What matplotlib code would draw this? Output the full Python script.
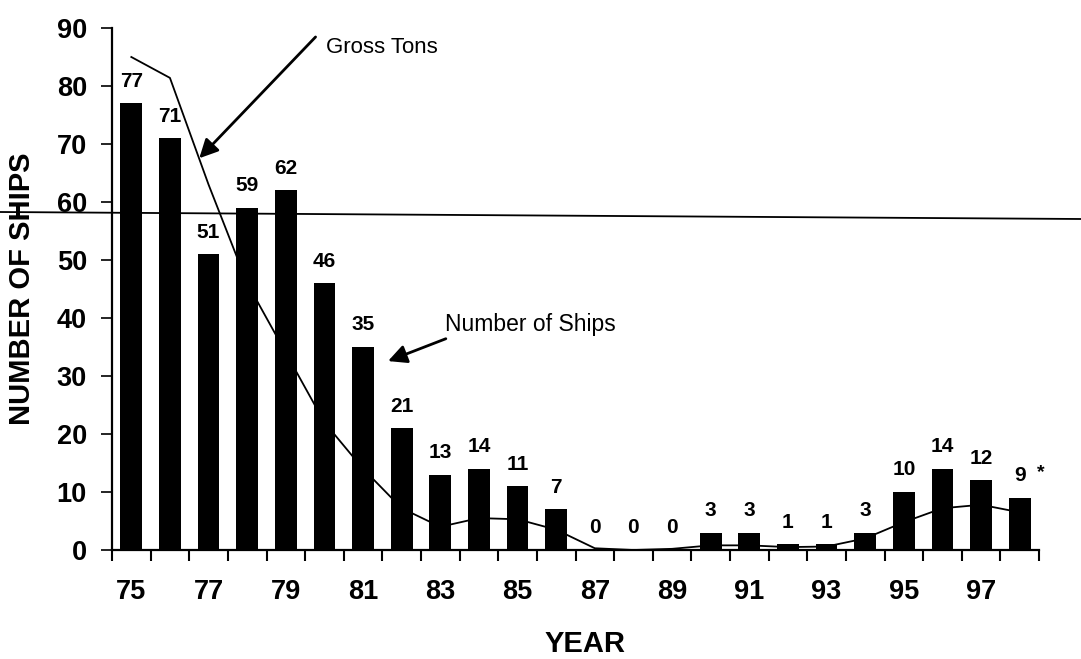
import numpy as np
import matplotlib
matplotlib.use("Agg")
import matplotlib.pyplot as plt
from matplotlib.lines import Line2D

plt.rcParams['font.family'] = ['Liberation Sans', 'DejaVu Sans']

YEARS = [75, 76, 77, 78, 79, 80, 81, 82, 83, 84, 85, 86,
         87, 88, 89, 90, 91, 92, 93, 94, 95, 96, 97, 98]
SHIPS = [77, 71, 51, 59, 62, 46, 35, 21, 13, 14, 11, 7,
         0, 0, 0, 3, 3, 1, 1, 3, 10, 14, 12, 9]
GROSS_TONS = [85, 81.4, 63, 46, 34, 22, 14, 7.2, 4, 5.5, 5.3, 3.5,
              0.3, 0, 0.2, 0.8, 0.8, 0.5, 0.6, 2, 4.8, 7.2, 7.8, 6.5]
YTICKS = list(range(0, 91, 10))


def main():
    fig = plt.figure(figsize=(10.81, 6.59), dpi=100)
    ax = fig.add_axes([112 / 1081, 1 - 550 / 659, (1039 - 112) / 1081, (550 - 28) / 659])

    x = np.arange(len(YEARS))
    ax.plot(x, GROSS_TONS, color='black', lw=1.3, zorder=2)
    ax.bar(x, SHIPS, width=0.56, color='black', zorder=3)

    for xi, v in zip(x, SHIPS):
        ax.annotate(str(v), (xi, v), xytext=(0, 12), textcoords='offset points',
                    ha='center', va='baseline', fontsize=15, fontweight='bold')
    ax.annotate('*', (x[-1], SHIPS[-1]), xytext=(15, 15), textcoords='offset points',
                ha='center', va='baseline', fontsize=14, fontweight='bold')

    ax.set_xlim(-0.5, len(YEARS) - 0.5)
    ax.set_ylim(0, 90)
    ax.set_yticks(YTICKS)
    ax.set_yticklabels([str(t) for t in YTICKS], fontsize=19.5, fontweight='bold')
    ax.set_xticks(x[::2])
    ax.set_xticklabels([str(y) for y in YEARS[::2]], fontsize=19.5, fontweight='bold')
    ax.set_xticks(np.arange(-0.5, len(YEARS)), minor=True)
    ax.tick_params(axis='x', which='major', length=0, pad=21)
    ax.tick_params(axis='x', which='minor', length=8, width=1.5, direction='out')
    ax.tick_params(axis='y', length=8, width=1.2, direction='out', pad=10)

    for s in ['top', 'right']:
        ax.spines[s].set_visible(False)
    for s in ['left', 'bottom']:
        ax.spines[s].set_linewidth(1.6)

    ax.set_ylabel('NUMBER OF SHIPS', fontsize=21, fontweight='bold')
    ax.yaxis.set_label_coords(-76 / 927, 0.5)
    ax.set_xlabel('YEAR', fontsize=21, fontweight='bold')
    ax.xaxis.set_label_coords(0.51, -80 / 522)

    ax.annotate('', xy=(1.71, 67.2), xytext=(4.82, 88.8),
                arrowprops=dict(arrowstyle='-|>', color='black', lw=2,
                                mutation_scale=28), annotation_clip=False)
    ax.text(5.03, 86.7, 'Gross Tons', fontsize=16, va='center', ha='left')

    ax.annotate('', xy=(6.58, 32.4), xytext=(8.21, 36.6),
                arrowprops=dict(arrowstyle='-|>', color='black', lw=2,
                                mutation_scale=28), annotation_clip=False)
    ax.text(8.13, 38.8, 'Number of Ships', fontsize=16.5, va='center', ha='left')

    # scanned fold line crossing the whole page
    fig.add_artist(Line2D([0, 1], [1 - 212 / 659, 1 - 219 / 659],
                          transform=fig.transFigure, color='black', lw=1.3))

    fig.savefig('out.png', dpi=100)
    plt.close(fig)


if __name__ == "__main__":
    main()
